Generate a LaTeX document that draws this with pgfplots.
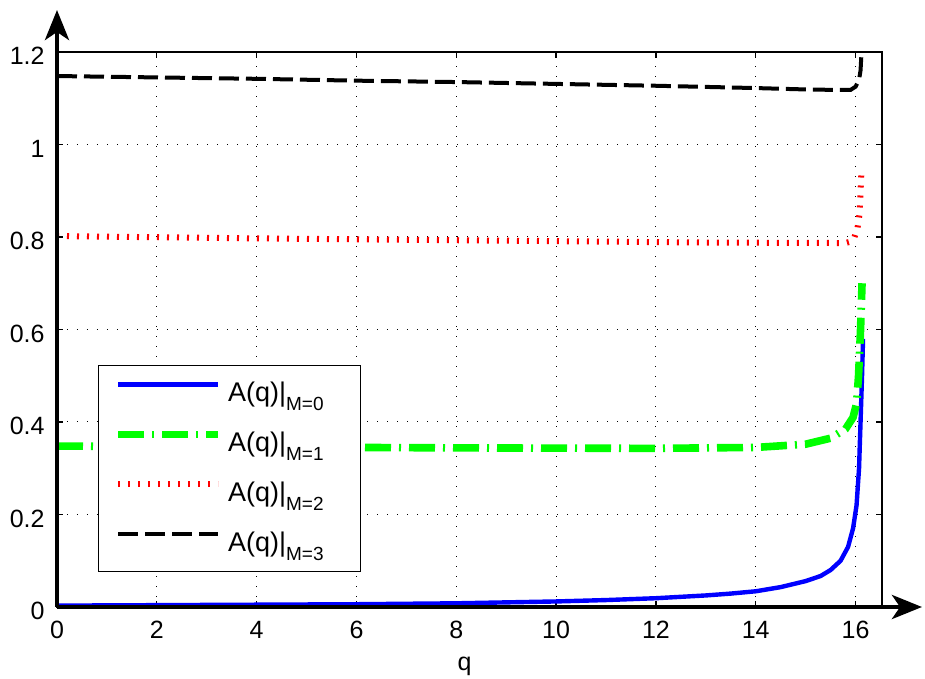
\documentclass[border=0pt]{standalone}
\usepackage{fontspec}
\setmainfont{Liberation Sans}
\usepackage{pgfplots}
\pgfplotsset{compat=1.18}
\usetikzlibrary{arrows.meta}
\definecolor{mgreen}{RGB}{0,255,0}
\definecolor{mblue}{RGB}{0,0,255}
\definecolor{mred}{RGB}{255,0,0}
\newcommand{\leg}[1]{\makebox[58pt][l]{A(q)|\raisebox{-4.5pt}{\fontsize{9.5}{11}\selectfont M=#1}}}
\begin{document}
\begin{tikzpicture}
\begin{axis}[
  scale only axis, width=412.5pt, height=277.5pt,
  xmin=0, xmax=16.53, ymin=0, ymax=1.2,
  xtick={0,2,...,16}, ytick={0,0.2,0.4,0.6,0.8,1,1.2},
  yticklabels={0,0.2,0.4,0.6,0.8,1,1.2},
  grid=major,
  major grid style={black, line width=0.5pt, dash pattern=on 0.5pt off 4.5pt},
  tick align=inside, major tick length=3pt,
  tick style={black, line width=0.6pt},
  axis line style={line width=0.6pt},
  /pgf/number format/assume math mode=true,
  ticklabel style={font=\fontsize{12.5}{15}\selectfont},
  xticklabel style={anchor=base, yshift=-15.5pt, inner sep=0pt},
  yticklabel style={anchor=east, xshift=-6pt, yshift=-2pt, inner sep=0pt},
  xlabel={q},
  xlabel style={font=\fontsize{12.5}{15}\selectfont, at={(rel axis cs:0.494,0)}, anchor=base, yshift=-31.5pt, inner sep=0pt},
  legend style={at={(axis cs:0.82,0.523)}, anchor=north west, draw=black, line width=0.6pt,
    font=\fontsize{13.5}{16}\selectfont, inner xsep=8pt, inner ysep=6pt,
    row sep=9.3pt, column sep=3pt,
    nodes={inner sep=0pt, text height=12pt, text depth=3.7pt}},
  legend cell align=left,
  legend image code/.code={\draw[#1] (0pt,4.5pt) -- (50pt,4.5pt);},
]
\addplot[mblue, line width=2.2pt] coordinates {
(0,0.003) (2,0.004) (4,0.005) (6,0.006) (8,0.008) (9,0.010) (10,0.012) (11,0.015)
(12,0.019) (13,0.025) (13.5,0.029) (14,0.034) (14.5,0.043) (15,0.056) (15.3,0.067)
(15.5,0.080) (15.7,0.100) (15.85,0.130) (15.95,0.170) (16.02,0.220) (16.07,0.300)
(16.1,0.400) (16.13,0.500) (16.15,0.580)};
\addlegendentry{\leg{0}}
\addplot[mgreen, line width=3.8pt, dash pattern=on 13pt off 4pt on 1pt off 4pt] coordinates {
(0,0.348) (4,0.346) (8,0.344) (12,0.343) (14,0.345) (15,0.352) (15.5,0.365)
(15.8,0.385) (15.95,0.410) (16.02,0.440) (16.06,0.500) (16.1,0.600) (16.13,0.700)};
\addlegendentry{\leg{1}}
\addplot[mred, line width=3pt, dash pattern=on 1pt off 4pt] coordinates {
(0,0.802) (4,0.797) (8,0.793) (13,0.788) (15.5,0.787) (15.8,0.787) (15.9,0.790)
(15.98,0.800) (16.04,0.820) (16.08,0.850) (16.1,0.900) (16.12,0.945)};
\addlegendentry{\leg{2}}
\addplot[black, line width=2pt, dash pattern=on 10pt off 3.5pt] coordinates {
(0,1.148) (2,1.145) (4,1.142) (6,1.138) (8,1.135) (10,1.131) (12,1.127) (14,1.122)
(15,1.119) (15.6,1.118) (15.9,1.118) (16.0,1.125) (16.07,1.140) (16.1,1.160)
(16.12,1.200) (16.14,1.250)};
\addlegendentry{\leg{3}}
\coordinate (sw) at (rel axis cs:0,0);
\coordinate (ne) at (rel axis cs:1,1);
\end{axis}
\draw[line width=2.25pt, -{Stealth[length=15pt,width=12pt,inset=4pt]}] (sw) -- ++(0,298.5pt);
\draw[line width=2.25pt, -{Stealth[length=15pt,width=12pt,inset=4pt]}] (sw) -- ++(432.5pt,0);
\pgfresetboundingbox
\path ([shift={(-28.5pt,-36pt)}]sw) rectangle ([shift={(21.5pt,26pt)}]ne);
\end{tikzpicture}
\end{document}
